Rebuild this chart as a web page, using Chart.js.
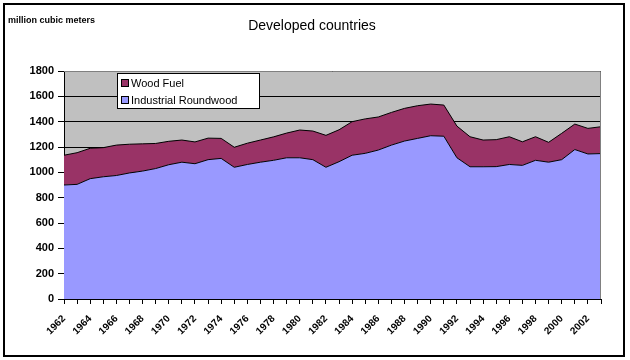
<!DOCTYPE html>
<html>
<head>
<meta charset="utf-8">
<title>Developed countries</title>
<script src="https://cdn.jsdelivr.net/npm/chart.js@4.4.1/dist/chart.umd.min.js"></script>
<style>
    html, body { margin: 0; padding: 0; background: #ffffff; }
    #wrap { position: relative; width: 630px; height: 360px; }
</style>
</head>
<body>
<div id="wrap"><canvas id="chart" width="630" height="360"></canvas></div>
<script>
// Categories (one per year, labels shown every second year)
const years = [
    '1962', '1963', '1964', '1965', '1966', '1967', '1968', '1969', '1970', '1971',
    '1972', '1973', '1974', '1975', '1976', '1977', '1978', '1979', '1980', '1981',
    '1982', '1983', '1984', '1985', '1986', '1987', '1988', '1989', '1990', '1991',
    '1992', '1993', '1994', '1995', '1996', '1997', '1998', '1999', '2000', '2001',
    '2002', '2003'
];

// million cubic meters
const industrialRoundwood = [
    900, 905, 950, 965, 975, 995, 1010, 1030, 1060, 1080,
    1068, 1100, 1110, 1040, 1062, 1080, 1095, 1115, 1115, 1100,
    1040, 1084, 1135, 1150, 1176, 1215, 1247, 1268, 1289, 1285,
    1115, 1044, 1044, 1045, 1062, 1055, 1095, 1080, 1100, 1180,
    1145, 1148
];

const woodFuel = [
    235, 250, 240, 230, 240, 227, 215, 198, 185, 175,
    172, 170, 158, 158, 168, 175, 185, 195, 219, 226,
    252, 252, 265, 272, 261, 258, 258, 258, 250, 246,
    250, 237, 211, 213, 219, 186, 186, 157, 208, 201,
    202, 212
];

const yTicks = [0, 200, 400, 600, 800, 1000, 1200, 1400, 1600, 1800];

const FONT = "'Liberation Sans', Arial, sans-serif";

// gray plot background, frame, titles and legend box
const decorations = {
    id: 'decorations',
    beforeDraw(chart) {
        const { ctx, chartArea: a } = chart;
        ctx.save();
        ctx.fillStyle = '#c0c0c0';
        ctx.fillRect(a.left, a.top, a.right - a.left, a.bottom - a.top);
        ctx.restore();
    },
    afterDraw(chart) {
        const { ctx, chartArea: a } = chart;
        ctx.save();

        // plot area frame (top / right)
        ctx.strokeStyle = '#808080';
        ctx.lineWidth = 1;
        ctx.beginPath();
        ctx.moveTo(a.left, a.top + 0.5);
        ctx.lineTo(a.right - 0.5, a.top + 0.5);
        ctx.lineTo(a.right - 0.5, a.bottom);
        ctx.stroke();

        // outer frame
        ctx.strokeStyle = '#000000';
        ctx.lineWidth = 2;
        ctx.strokeRect(4, 4, 620, 352);

        // titles
        ctx.fillStyle = '#000000';
        ctx.textBaseline = 'middle';
        ctx.textAlign = 'center';
        ctx.font = '14px ' + FONT;
        ctx.fillText('Developed countries', 312, 26);
        ctx.textAlign = 'left';
        ctx.font = 'bold 9px ' + FONT;
        ctx.fillText('million cubic meters', 8, 21);

        // legend (inside plot area)
        const lx = 117, ly = 73, lw = 142, lh = 35;
        ctx.fillStyle = '#ffffff';
        ctx.fillRect(lx, ly, lw, lh);
        ctx.strokeStyle = '#000000';
        ctx.lineWidth = 1;
        ctx.strokeRect(lx + 0.5, ly + 0.5, lw, lh);

        const items = chart.data.datasets.slice().reverse();
        ctx.font = '11px ' + FONT;
        items.forEach((ds, i) => {
            const cy = ly + 10 + i * 17;
            ctx.fillStyle = ds.backgroundColor;
            ctx.fillRect(lx + 4.5, cy - 3.5, 7, 7);
            ctx.strokeStyle = '#000000';
            ctx.strokeRect(lx + 4.5, cy - 3.5, 7, 7);
            ctx.fillStyle = '#000000';
            ctx.fillText(ds.label, lx + 14, cy + 1);
        });
        ctx.restore();
    }
};

new Chart(document.getElementById('chart'), {
    type: 'line',
    data: {
        labels: years,
        datasets: [
            {
                label: 'Industrial Roundwood',
                data: industrialRoundwood,
                backgroundColor: '#9999ff',
                borderColor: '#000000',
                borderWidth: 1,
                fill: 'origin',
                pointRadius: 0,
                tension: 0
            },
            {
                label: 'Wood Fuel',
                data: woodFuel,
                backgroundColor: '#993366',
                borderColor: '#000000',
                borderWidth: 1,
                fill: '-1',
                pointRadius: 0,
                tension: 0
            }
        ]
    },
    options: {
        responsive: false,
        animation: false,
        layout: { padding: { left: 0, top: 71, right: 29, bottom: 0 } },
        plugins: {
            legend: { display: false },
            title: { display: false },
            tooltip: { enabled: false }
        },
        scales: {
            x: {
                offset: false,
                grid: {
                    drawOnChartArea: false,
                    drawTicks: true,
                    tickLength: 5,
                    color: '#000000'
                },
                border: { display: true, color: '#000000', width: 1 },
                ticks: {
                    autoSkip: false,
                    maxRotation: 45,
                    minRotation: 45,
                    padding: 9,
                    color: '#000000',
                    font: { family: FONT, size: 10, weight: 'bold' },
                    callback: function(value, index) {
                        return index % 2 === 0 ? years[index] : '';
                    }
                },
                afterFit(scale) { scale.height = 61; }
            },
            y: {
                stacked: true,
                min: 0,
                max: 1800,
                afterBuildTicks(scale) {
                    scale.ticks = yTicks.map(v => ({ value: v }));
                },
                grid: {
                    color: '#000000',
                    lineWidth: 1,
                    drawTicks: true,
                    tickLength: 6
                },
                border: { display: true, color: '#000000', width: 1 },
                ticks: {
                    padding: 4,
                    color: '#000000',
                    font: { family: FONT, size: 11, weight: 'bold' },
                    callback: function(value) {
                        return String(value);
                    }
                },
                afterFit(scale) { scale.width = 64; }
            }
        }
    },
    plugins: [decorations]
});
</script>
</body>
</html>
